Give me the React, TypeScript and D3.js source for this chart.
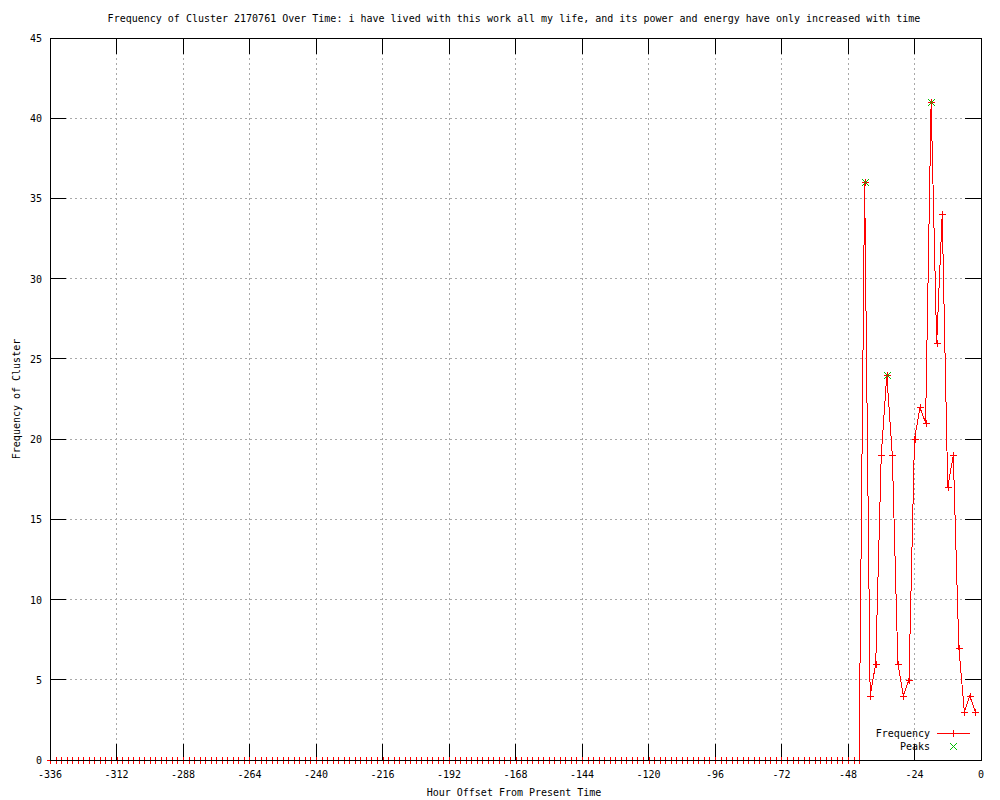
import React from "react";
import * as d3 from "d3";

const titleText =
  "Frequency of Cluster 2170761 Over Time: i have lived with this work all my life, and its power and energy have only increased with time";
const xAxisTitle = "Hour Offset From Present Time";
const yAxisTitle = "Frequency of Cluster";

const startHour = -336;
const stepHours = 2;

// frequency values for each 2-hour bin from -336 to -2
const frequencyValues = [
  0,0,0,0,0,0,0,0,0,0,0,0,0,0,0,0,0,0,0,0,0,
  0,0,0,0,0,0,0,0,0,0,0,0,0,0,0,0,0,0,0,0,0,
  0,0,0,0,0,0,0,0,0,0,0,0,0,0,0,0,0,0,0,0,0,
  0,0,0,0,0,0,0,0,0,0,0,0,0,0,0,0,0,0,0,0,0,
  0,0,0,0,0,0,0,0,0,0,0,0,0,0,0,0,0,0,0,0,0,
  0,0,0,0,0,0,0,0,0,0,0,0,0,0,0,0,0,0,0,0,0,
  0,0,0,0,0,0,0,0,0,0,0,0,0,0,0,0,0,0,0,0,0,
  36,4,6,19,24,19,6,4,5,20,22,21,41,26,34,17,19,7,3,4,3,
];

const peakHours = [-42, -34, -18];
const peakValues = [36, 24, 41];

const xTicks = [-336, -312, -288, -264, -240, -216, -192, -168, -144, -120, -96, -72, -48, -24, 0];
const yTicks = [0, 5, 10, 15, 20, 25, 30, 35, 40, 45];

const W = 1000;
const H = 800;
const L = 50;
const R = 981;
const T = 38;
const B = 760;
const TICK = 16;
const FONT = "'DejaVu Sans Mono', monospace";
const RED = "#ff0000";
const GREEN = "#00c000";

export default function App() {
  const x = d3.scaleLinear().domain([-336, 0]).range([L, R]);
  const y = d3.scaleLinear().domain([0, 45]).range([B, T]);

  const points = frequencyValues.map((v, i) => ({ h: startHour + i * stepHours, v }));
  const line = d3
    .line<{ h: number; v: number }>()
    .x((d) => x(d.h))
    .y((d) => y(d.v));

  const plus = (cx: number, cy: number, s = 3.5) =>
    `M${cx - s},${cy}H${cx + s}M${cx},${cy - s}V${cy + s}`;
  const cross = (cx: number, cy: number, s = 3.5) =>
    `M${cx - s},${cy - s}L${cx + s},${cy + s}M${cx - s},${cy + s}L${cx + s},${cy - s}`;

  const txt = { fontFamily: FONT, fontSize: 10, fill: "#000" } as const;

  return (
    <svg
      width={W}
      height={H}
      style={{ position: "absolute", left: 0, top: 0, background: "#fff" }}
    >
      <rect x={0} y={0} width={W} height={H} fill="#fff" />
      {/* grid */}
      <g stroke="#a8a8a8" strokeWidth={1} strokeDasharray="2,3" shapeRendering="crispEdges">
        {xTicks
          .filter((t) => t !== -336 && t !== 0)
          .map((t) => (
            <line key={"gx" + t} x1={x(t)} x2={x(t)} y1={T} y2={B} />
          ))}
        {yTicks
          .filter((t) => t !== 0 && t !== 45)
          .map((t) => (
            <line key={"gy" + t} x1={L} x2={R} y1={y(t)} y2={y(t)} />
          ))}
      </g>
      {/* ticks */}
      <g stroke="#000" strokeWidth={1} shapeRendering="crispEdges">
        {xTicks.map((t) => (
          <g key={"tx" + t}>
            <line x1={x(t)} x2={x(t)} y1={B} y2={B - TICK} />
            <line x1={x(t)} x2={x(t)} y1={T} y2={T + TICK} />
          </g>
        ))}
        {yTicks.map((t) => (
          <g key={"ty" + t}>
            <line x1={L} x2={L + TICK} y1={y(t)} y2={y(t)} />
            <line x1={R} x2={R - TICK} y1={y(t)} y2={y(t)} />
          </g>
        ))}
      </g>
      {/* data line */}
      <path
        d={line(points) || ""}
        fill="none"
        stroke={RED}
        strokeWidth={1}
        shapeRendering="crispEdges"
      />
      <g stroke={RED} strokeWidth={1} fill="none" shapeRendering="crispEdges">
        {points.map((p, i) => (
          <path key={"m" + i} d={plus(Math.round(x(p.h)) + 0.5, Math.round(y(p.v)) + 0.5)} />
        ))}
      </g>
      <g stroke={GREEN} strokeWidth={1} fill="none" shapeRendering="crispEdges">
        {peakHours.map((h, i) => (
          <path
            key={"p" + i}
            d={cross(Math.round(x(h)) + 0.5, Math.round(y(peakValues[i])) + 0.5)}
          />
        ))}
      </g>
      {/* border */}
      <rect
        x={L}
        y={T}
        width={R - L}
        height={B - T}
        fill="none"
        stroke="#000"
        strokeWidth={1}
        shapeRendering="crispEdges"
      />
      {/* tick labels */}
      {xTicks.map((t) => (
        <text key={"lx" + t} x={x(t)} y={778} textAnchor="middle" {...txt}>
          {t}
        </text>
      ))}
      {yTicks.map((t) => (
        <text key={"ly" + t} x={42} y={y(t) + 4} textAnchor="end" {...txt}>
          {t}
        </text>
      ))}
      {/* titles */}
      <text x={514} y={22} textAnchor="middle" {...txt}>
        {titleText}
      </text>
      <text x={514} y={796} textAnchor="middle" {...txt}>
        {xAxisTitle}
      </text>
      <text
        transform={`translate(20,${(T + B) / 2}) rotate(-90)`}
        textAnchor="middle"
        {...txt}
      >
        {yAxisTitle}
      </text>
      {/* legend */}
      <text x={930} y={737} textAnchor="end" {...txt}>
        Frequency
      </text>
      <g stroke={RED} strokeWidth={1} fill="none" shapeRendering="crispEdges">
        <path d={`M937,733.5H970`} />
        <path d={plus(953.5, 733.5)} />
      </g>
      <text x={930} y={750} textAnchor="end" {...txt}>
        Peaks
      </text>
      <path
        d={cross(953.5, 746.5)}
        stroke={GREEN}
        strokeWidth={1}
        fill="none"
        shapeRendering="crispEdges"
      />
    </svg>
  );
}
